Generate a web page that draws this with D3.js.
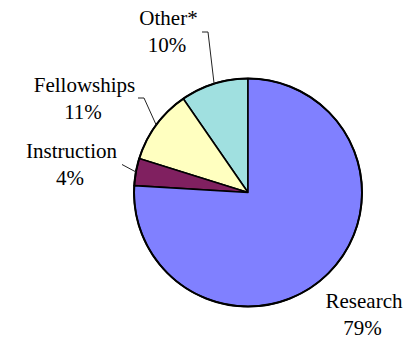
<!DOCTYPE html>
<html>
<head>
<meta charset="utf-8">
<script src="https://cdn.jsdelivr.net/npm/d3@7/dist/d3.min.js"></script>
<style>
  html, body { margin: 0; padding: 0; background: #fff; }
  svg { display: block; }
</style>
</head>
<body>
<svg id="chart" width="413" height="339"></svg>
<script>
// Share of funding by activity, drawn counter-clockwise from 12 o'clock
const categories = ["Other*", "Fellowships", "Instruction", "Research"];
const shares = [10, 11, 4, 79];
const shareLabels = ["10%", "11%", "4%", "79%"];
const sliceColors = ["#A0E0E0", "#FFFFC0", "#802060", "#8080FF"];

const width = 413, height = 339;
const cx = 248, cy = 192.5, radius = 114;

const svg = d3.select("#chart");
const g = svg.append("g").attr("transform", `translate(${cx},${cy})`);

const pie = d3.pie()
  .sort(null)
  .value(d => d.value)
  .startAngle(0)
  .endAngle(-2 * Math.PI);

const rows = categories.map((c, i) => ({ name: c, value: shares[i], label: shareLabels[i], color: sliceColors[i] }));
const arcs = pie(rows);

const arc = d3.arc().innerRadius(0).outerRadius(radius);

g.selectAll("path.slice")
  .data(arcs)
  .join("path")
  .attr("class", "slice")
  .attr("d", arc)
  .attr("fill", d => d.data.color)
  .attr("stroke", "#000")
  .attr("stroke-width", 1.6)
  .attr("stroke-linejoin", "round");

// outer rim
g.append("circle")
  .attr("r", radius)
  .attr("fill", "none")
  .attr("stroke", "#000")
  .attr("stroke-width", 2);

// label placement (text centre, first baseline) and leader elbows
const labelLayout = {
  "Other*":      { x: 168.5, y: 25,   leader: [[202, 32], [208, 32]] },
  "Fellowships": { x: 84.5,  y: 91.5, leader: [[138, 98], [144, 98]] },
  "Instruction": { x: 71.5,  y: 158,  leader: [[122, 164.5]] },
  "Research":    { x: 364,   y: 308,  leader: null }
};

// point on the rim at the middle of a slice
function rimPoint(d) {
  const a = (d.startAngle + d.endAngle) / 2;
  return [cx + radius * Math.sin(a), cy - radius * Math.cos(a)];
}

function addText(x, y, str) {
  svg.append("text")
    .attr("x", x)
    .attr("y", y)
    .attr("text-anchor", "middle")
    .attr("font-family", "Liberation Serif")
    .attr("font-size", 21)
    .attr("fill", "#000")
    .text(str);
}

const lineGen = d3.line();
arcs.forEach(d => {
  const L = labelLayout[d.data.name];
  if (L.leader) {
    const pts = L.leader.concat([rimPoint(d)]);
    svg.append("path")
      .attr("d", lineGen(pts))
      .attr("fill", "none")
      .attr("stroke", "#222")
      .attr("stroke-width", 1);
  }
  addText(L.x, L.y, d.data.name);
  addText(L.x - 1.5, L.y + 27, d.data.label);
});
</script>
</body>
</html>
